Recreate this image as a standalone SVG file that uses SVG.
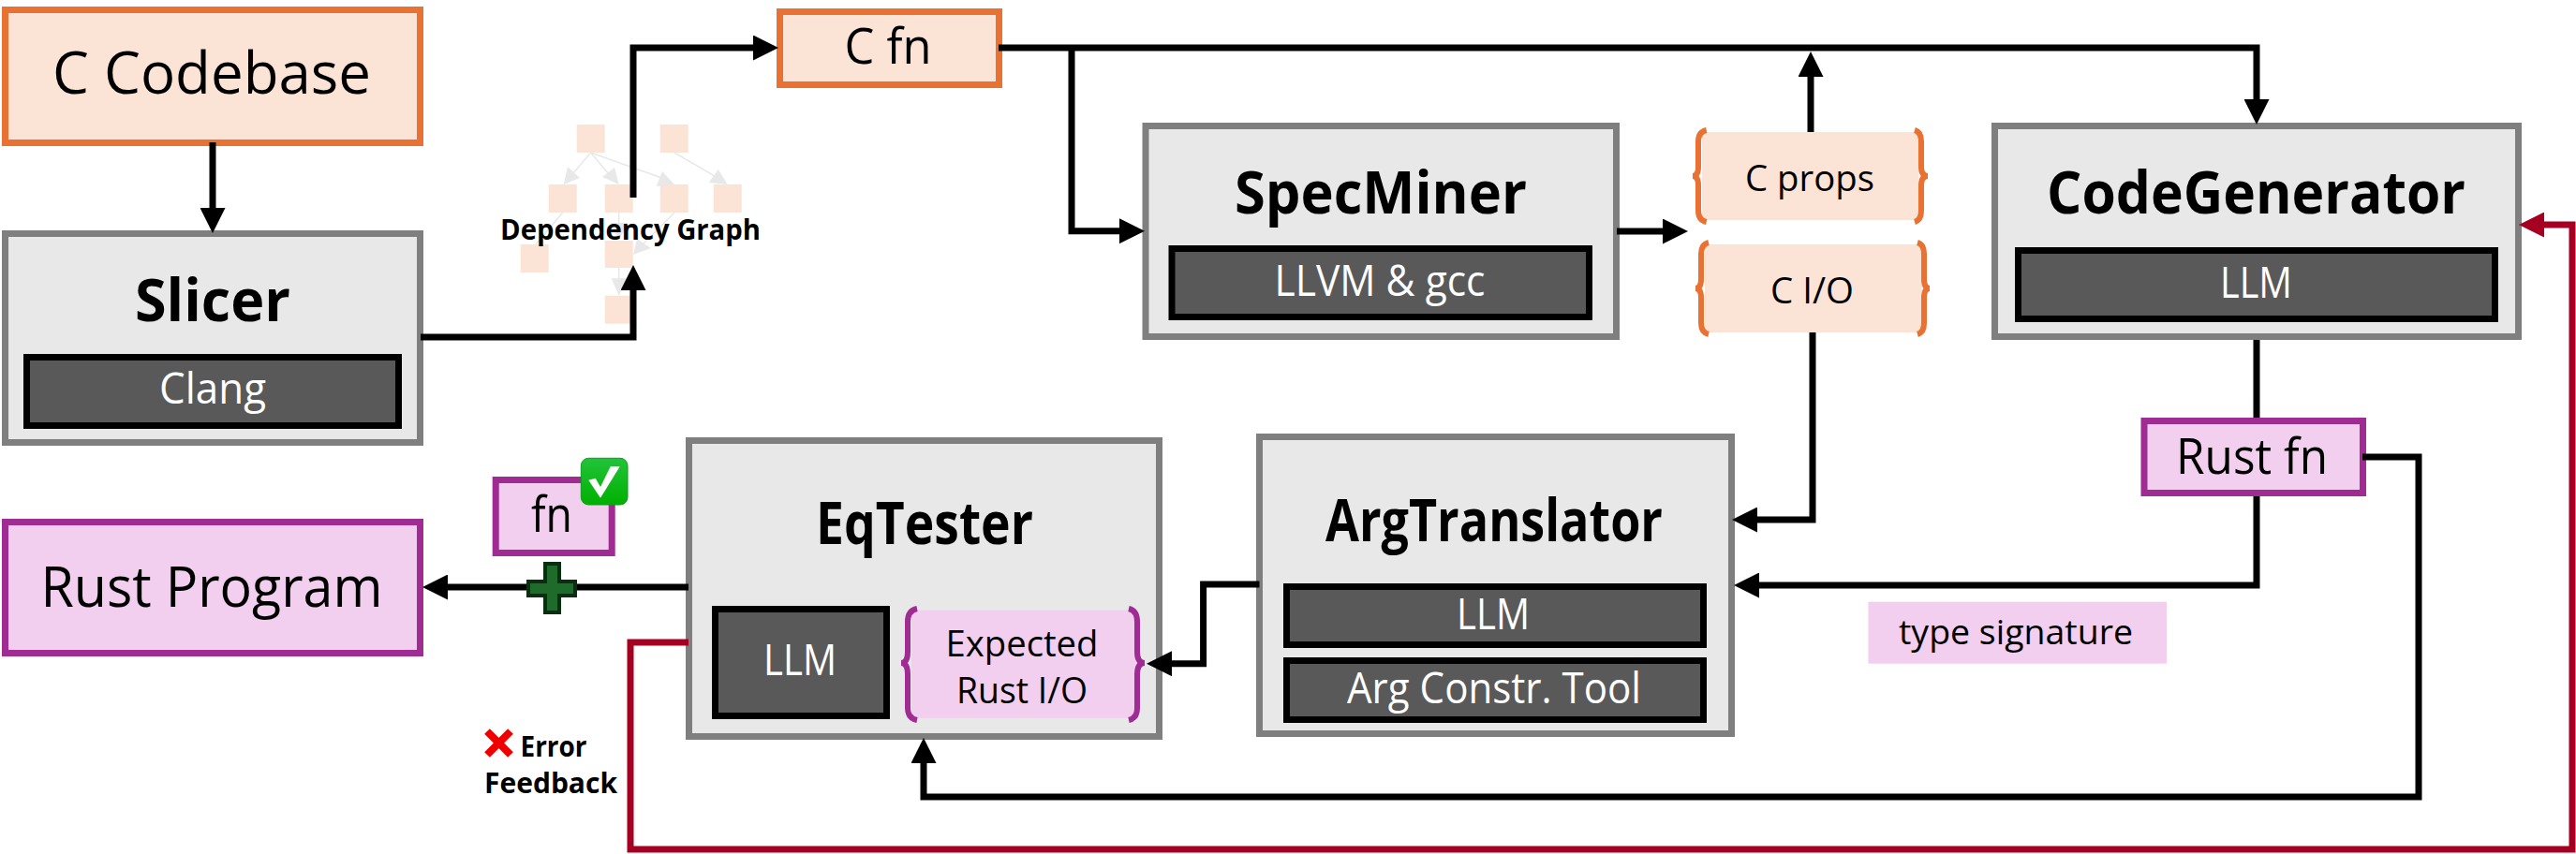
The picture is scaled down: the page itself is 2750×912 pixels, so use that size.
<svg xmlns="http://www.w3.org/2000/svg" width="2750" height="912" viewBox="0 0 2750 912">
<style>
text{font-family:"Open Sans","Liberation Sans",sans-serif;text-anchor:middle;fill:#000;}
.b{font-weight:700;font-size:62px;}
.w{fill:#fff;font-size:46px;}
.r{font-size:37px;}
.box{fill:#E8E8E8;stroke:#7F7F7F;stroke-width:7;}
.tool{fill:#595959;stroke:#000;stroke-width:7;}
.cn{fill:#FBE3D6;stroke:#E97132;stroke-width:7;}
.rn{fill:#F2CEEF;stroke:#A02B93;stroke-width:7;}
.cp{fill:#FBE3D6;}
.rp{fill:#F2CEEF;}
.cb{fill:none;stroke:#E97132;stroke-width:6;}
.rb{fill:none;stroke:#A02B93;stroke-width:6;}
.ln{fill:none;stroke:#000;stroke-width:7;stroke-linejoin:miter;marker-end:url(#ah);}
.pl{fill:none;stroke:#000;stroke-width:7;}
.red{fill:none;stroke:#A50021;stroke-width:7;marker-end:url(#ar);}
.ge{fill:none;stroke:#E8E8E8;stroke-width:1.5;}
.gh{fill:#E8E8E8;}
</style>
<defs>
<marker id="ah" viewBox="0 0 27 27" markerUnits="userSpaceOnUse" markerWidth="27" markerHeight="27" refX="1" refY="13.5" orient="auto"><path d="M0,0L27,13.5L0,27z" fill="#000"/></marker>
<marker id="ar" viewBox="0 0 27 27" markerUnits="userSpaceOnUse" markerWidth="27" markerHeight="27" refX="1" refY="13.5" orient="auto"><path d="M0,0L27,13.5L0,27z" fill="#A50021"/></marker>
<linearGradient id="gk" x1="0" y1="0" x2="0" y2="1"><stop offset="0" stop-color="#22C33A"/><stop offset="1" stop-color="#00B000"/></linearGradient>
</defs>

<g id="dependency-graph">
<g class="cp">
<rect x="615.7" y="133" width="30" height="30"/>
<rect x="704.7" y="133" width="30" height="30"/>
<rect x="585.7" y="197" width="30" height="30"/>
<rect x="645.7" y="197" width="30" height="30"/>
<rect x="704.7" y="197" width="30" height="30"/>
<rect x="761.7" y="197" width="30" height="30"/>
<rect x="555.7" y="261" width="30" height="30"/>
<rect x="645.7" y="257" width="30" height="29"/>
<rect x="645.7" y="315.7" width="30" height="30"/>
</g>
<path class="ge" d="M630.7,163L606,192M630.7,163L655,192M630.7,163L712,192M720,163L770,192M600.7,227L572,261M660.7,227V245M720,227L684,263M660.7,286V305"/>
<path class="gh" d="M601.7,197L606,178L619,190zM660.7,197L643,189L656,179zM720,197L700.7,199L707,183zM776.7,197L756.7,195L766.7,181zM660.7,257L651.7,238H670zM676,272L680,255L695,265zM660.7,315.7L652.7,297.3H670z"/>
<text class="b" x="673" y="256" style="font-size:30px" textLength="278" lengthAdjust="spacingAndGlyphs">Dependency Graph</text>
</g>

<g id="c-codebase">
<rect class="cn" x="5.5" y="10.5" width="443" height="142"/>
<text x="226" y="100" font-size="62" textLength="340" lengthAdjust="spacingAndGlyphs">C Codebase</text>
</g>
<g id="slicer">
<rect class="box" x="5.5" y="249.5" width="443" height="223"/>
<text class="b" x="227" y="343" textLength="166" lengthAdjust="spacingAndGlyphs">Slicer</text>
<rect class="tool" x="28.5" y="381.5" width="397" height="73"/>
<text class="w" x="227" y="431" textLength="114" lengthAdjust="spacingAndGlyphs">Clang</text>
</g>
<g id="c-fn">
<rect class="cn" x="832.5" y="12.5" width="234" height="78"/>
<text x="948" y="68" font-size="53" textLength="93" lengthAdjust="spacingAndGlyphs">C fn</text>
</g>
<g id="specminer">
<rect class="box" x="1223" y="134.5" width="502.5" height="225"/>
<text class="b" x="1474" y="227.7" textLength="312" lengthAdjust="spacingAndGlyphs">SpecMiner</text>
<rect class="tool" x="1251" y="265.5" width="445.5" height="73"/>
<text class="w" x="1473" y="315.7" textLength="225" lengthAdjust="spacingAndGlyphs">LLVM &amp; gcc</text>
</g>
<g id="c-props">
<rect class="cp" x="1817" y="141" width="231.5" height="94"/>
<path class="cb" d="M1821.7,139Q1813,141 1813,151V178Q1813,188 1807,188Q1813,188 1813,198V225Q1813,235 1821.7,237"/>
<path class="cb" d="M2044,139Q2051,141 2051,151V178Q2051,188 2058,188Q2051,188 2051,198V225Q2051,235 2044,237"/>
<text class="r" x="1932" y="204" style="font-size:39px" textLength="138" lengthAdjust="spacingAndGlyphs">C props</text>
</g>
<g id="c-io">
<rect class="cp" x="1820" y="261" width="231.5" height="94"/>
<path class="cb" d="M1824,259Q1816,261 1816,271V298Q1816,308 1810,308Q1816,308 1816,318V345Q1816,355 1824,357"/>
<path class="cb" d="M2047,259Q2054,261 2054,271V298Q2054,308 2060,308Q2054,308 2054,318V345Q2054,355 2047,357"/>
<text class="r" x="1934.5" y="324" style="font-size:39px" textLength="89" lengthAdjust="spacingAndGlyphs">C I/O</text>
</g>
<g id="codegenerator">
<rect class="box" x="2129.5" y="134.5" width="559" height="225"/>
<text class="b" x="2408.5" y="227.7" textLength="447" lengthAdjust="spacingAndGlyphs">CodeGenerator</text>
<rect class="tool" x="2154.5" y="267.5" width="509" height="73"/>
<text class="w" x="2408.5" y="317.7" textLength="77" lengthAdjust="spacingAndGlyphs">LLM</text>
</g>
<g id="rust-fn">
<rect class="rn" x="2289" y="449.5" width="233.5" height="77"/>
<text x="2404" y="505.7" font-size="53" textLength="162" lengthAdjust="spacingAndGlyphs">Rust fn</text>
</g>
<g id="type-signature">
<rect class="rp" x="1994.5" y="642.7" width="318.5" height="66"/>
<text class="r" x="2152" y="688" textLength="250" lengthAdjust="spacingAndGlyphs">type signature</text>
</g>
<g id="argtranslator">
<rect class="box" x="1344.5" y="466.5" width="504" height="317"/>
<text class="b" x="1595" y="577.7" textLength="360" lengthAdjust="spacingAndGlyphs">ArgTranslator</text>
<rect class="tool" x="1373.5" y="626.5" width="445" height="62"/>
<text class="w" x="1594" y="671.7" textLength="78" lengthAdjust="spacingAndGlyphs">LLM</text>
<rect class="tool" x="1373.5" y="705.5" width="445" height="63"/>
<text class="w" x="1595" y="750.7" textLength="314" lengthAdjust="spacingAndGlyphs">Arg Constr. Tool</text>
</g>
<g id="eqtester">
<rect class="box" x="735.5" y="470.5" width="502" height="316"/>
<text class="b" x="987" y="580.7" textLength="232" lengthAdjust="spacingAndGlyphs">EqTester</text>
<rect class="tool" x="763.5" y="650.5" width="183" height="114"/>
<text class="w" x="854" y="720.7" textLength="78" lengthAdjust="spacingAndGlyphs">LLM</text>
</g>
<g id="expected-rust-io">
<rect class="rp" x="973" y="651.7" width="239.5" height="115"/>
<path class="rb" d="M979,650Q969,652 969,664V696Q969,708 962,708Q969,708 969,720V756Q969,767 979,769"/>
<path class="rb" d="M1205,650Q1214,652 1214,664V696Q1214,708 1222,708Q1214,708 1214,720V756Q1214,767 1205,769"/>
<text class="r" x="1091" y="700.7" style="font-size:39px" textLength="163" lengthAdjust="spacingAndGlyphs">Expected</text>
<text class="r" x="1091" y="751" style="font-size:39px" textLength="140" lengthAdjust="spacingAndGlyphs">Rust I/O</text>
</g>
<g id="rust-program">
<rect class="rn" x="5.5" y="557.5" width="443" height="140"/>
<text x="226" y="647.7" font-size="61" textLength="365" lengthAdjust="spacingAndGlyphs">Rust Program</text>
</g>
<g id="fn">
<rect class="rn" x="529.2" y="512.5" width="124" height="78"/>
<text x="589" y="568.3" font-size="53" textLength="44" lengthAdjust="spacingAndGlyphs">fn</text>
</g>

<g id="connectors">
<path class="ln" d="M227,152V223"/>
<path class="ln" d="M449,360H676V309"/>
<path class="ln" d="M676,211V51H805"/>
<path class="ln" d="M1066,51H2409V107"/>
<path class="ln" d="M1144,51V246.7H1196"/>
<path class="ln" d="M1726,247H1776"/>
<path class="ln" d="M1933,141V81"/>
<path class="ln" d="M1935,355V555H1875"/>
<path class="pl" d="M2409,363V446"/>
<path class="ln" d="M2409,530V625H1877"/>
<path class="ln" d="M2522,488H2582V851H986V814"/>
<path class="ln" d="M1344.5,624H1284.6V708.7H1250"/>
<path class="ln" d="M735,627H477"/>
<path class="red" d="M735,686H673V907H2746V240H2715"/>
</g>

<g id="plus-marker">
<path d="M582,602H597V621H614V636H597V654H582V636H564V621H582z" fill="#1F6B2B" stroke="#0A2E10" stroke-width="4"/>
</g>
<g id="check-marker">
<rect x="620.3" y="489.3" width="49.7" height="49.7" rx="8" fill="url(#gk)" stroke="#0E9B1E" stroke-width="1"/>
<path d="M628.3,512.7L641,531.7L661.7,498.3H651.7L641,520L635.7,510.7z" fill="#fff"/>
</g>
<g id="error-feedback">
<path d="M520,781L545,806M545,781L520,806" fill="none" stroke="#EE0000" stroke-width="8"/>
<text class="b" x="591" y="808.3" style="font-size:30px" textLength="71" lengthAdjust="spacingAndGlyphs">Error</text>
<text class="b" x="588" y="847.3" style="font-size:30px" textLength="142" lengthAdjust="spacingAndGlyphs">Feedback</text>
</g>
</svg>
